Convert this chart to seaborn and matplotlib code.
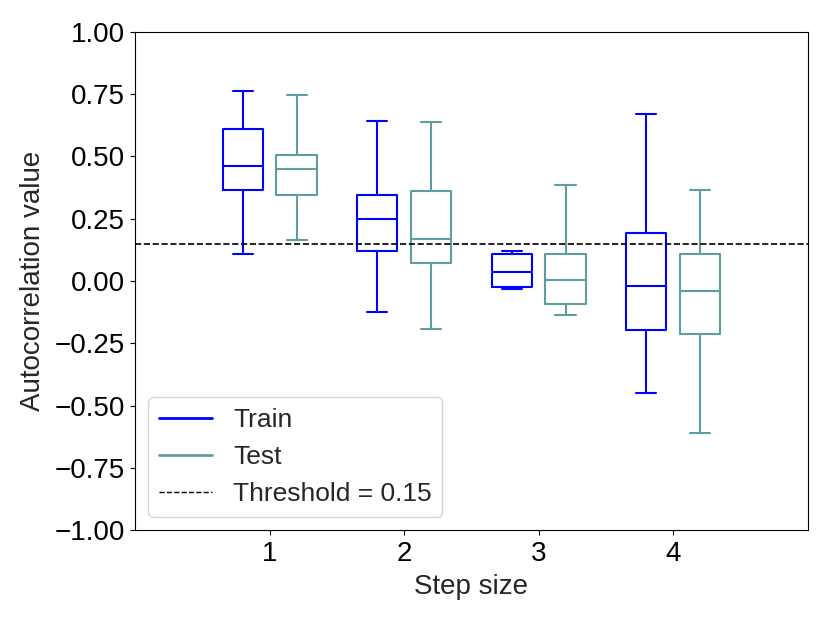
import pandas as pd
import matplotlib.pyplot as plt
import seaborn as sns
from matplotlib.lines import Line2D

# five-number summaries: [low whisker, q1, median, q3, high whisker]
steps = [1, 2, 3, 4]
train_stats = [
    [0.109, 0.365, 0.461, 0.608, 0.762],
    [-0.124, 0.120, 0.248, 0.347, 0.640],
    [-0.031, -0.025, 0.038, 0.110, 0.122],
    [-0.451, -0.195, -0.022, 0.192, 0.672],
]
test_stats = [
    [0.165, 0.346, 0.449, 0.506, 0.748],
    [-0.193, 0.072, 0.167, 0.360, 0.638],
    [-0.135, -0.092, 0.003, 0.110, 0.387],
    [-0.611, -0.214, -0.042, 0.110, 0.364],
]
threshold = 0.15

rows = []
for step, tr, te in zip(steps, train_stats, test_stats):
    for v in tr:
        rows.append({"step": step, "value": v, "set": "Train"})
    for v in te:
        rows.append({"step": step, "value": v, "set": "Test"})
df = pd.DataFrame(rows)

sns.set_style("ticks")
plt.rcParams['font.family'] = ['Liberation Sans', 'DejaVu Sans']

fig = plt.figure(figsize=(8.3, 6.23), dpi=100)
ax = fig.add_axes([0.163, 0.149, 0.810, 0.800])

palette = {"Train": "blue", "Test": "cadetblue"}
sns.boxplot(data=df, x="step", y="value", hue="set", hue_order=["Train", "Test"],
            palette=palette, fill=False, native_scale=True, width=0.8, gap=0.25,
            whis=(0, 100), linewidth=1.5, legend=False, ax=ax)

ax.axhline(threshold, color="black", linestyle="--", linewidth=1.2)

ax.set_xlim(0, 5)
ax.set_ylim(-1, 1)
ax.set_xticks(steps)
ax.set_yticks([-1, -0.75, -0.5, -0.25, 0, 0.25, 0.5, 0.75, 1])
ax.set_yticklabels([f"{t:.2f}".replace("-", "\u2212") for t in ax.get_yticks()])
ax.tick_params(labelsize=20, colors="black", pad=4)
ax.set_xlabel("Step size", fontsize=20, labelpad=5)
ax.set_ylabel("Autocorrelation value", fontsize=20, labelpad=6)
for s in ax.spines.values():
    s.set_color("black")

handles = [
    Line2D([], [], color="blue", linewidth=2),
    Line2D([], [], color="cadetblue", linewidth=2),
    Line2D([], [], color="black", linestyle="--", linewidth=1),
]
ax.legend(handles, ["Train", "Test", "Threshold = 0.15"], loc="lower left", fontsize=19)

fig.savefig("out.png", dpi=100)
